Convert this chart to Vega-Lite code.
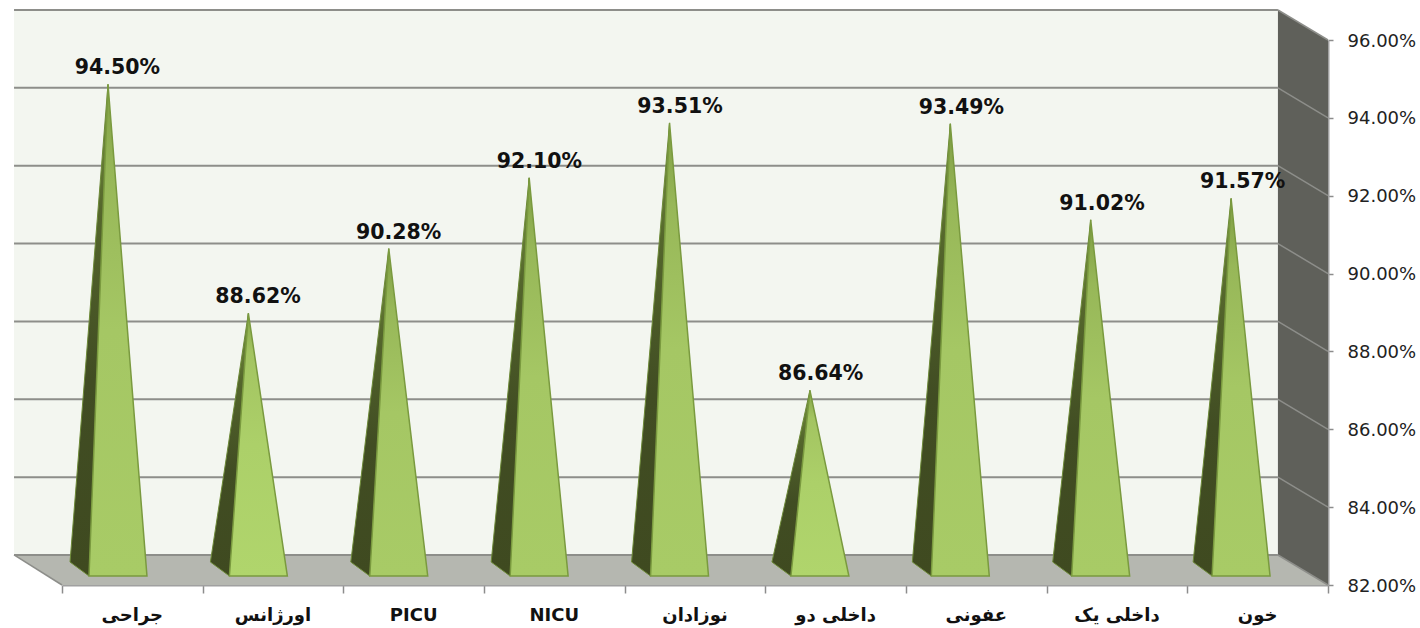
{
"$schema":"https://vega.github.io/schema/vega-lite/v6.json",
"autosize":"none",
"padding":{"left":62,"top":40,"right":92,"bottom":43},
"width":1266,"height":545,
"background":"white",
"config":{"view":{"stroke":null},"font":"DejaVu Sans"},
"datasets":{
 "dept":[
  {"dept":"جراحی","value":0.945},
  {"dept":"اورژانس","value":0.8862},
  {"dept":"PICU","value":0.9028},
  {"dept":"NICU","value":0.921},
  {"dept":"نوزادان","value":0.9351},
  {"dept":"داخلی دو","value":0.8664},
  {"dept":"عفونی","value":0.9349},
  {"dept":"داخلی یک","value":0.9102},
  {"dept":"خون","value":0.9157}
 ],
 "grid":[
  {"tick":0.82,"back":0.82771},{"tick":0.84,"back":0.84771},{"tick":0.86,"back":0.86771},{"tick":0.88,"back":0.88771},
  {"tick":0.9,"back":0.90771},{"tick":0.92,"back":0.92771},{"tick":0.94,"back":0.94771},{"tick":0.96,"back":0.96771}
 ],
 "floor":[{"y":0.82771,"x":-0.341,"x2":8.644},{"y":0.82,"x":0,"x2":9}],
 "side":[{"x":8.644,"y":0.96771,"y2":0.82771},{"x":9,"y":0.96,"y2":0.82}]
},
"layer":[
 {"layer":[
  {"data":{"values":[{"a":1}]},
   "mark":{"type":"rect","fill":"#f3f6f0"},
   "encoding":{
    "x":{"datum":-0.341,"type":"quantitative","scale":{"domain":[0,9]},"axis":{"values":[0,1,2,3,4,5,6,7,8,9],"labels":false,"grid":false,"title":null,"tickSize":8,"tickColor":"#8c8c8c","tickWidth":1.5,"domainColor":"#a0a0a0","domainWidth":2,"orient":"bottom"}},
    "x2":{"datum":8.644},
    "y":{"datum":0.96771,"type":"quantitative","scale":{"domain":[0.82,0.96]},"axis":{"values":[0.82,0.84,0.86,0.88,0.9,0.92,0.94,0.96],"format":".2%","orient":"right","grid":false,"title":null,"tickSize":5,"tickColor":"#8c8c8c","tickWidth":1.5,"domainColor":"#a0a0a0","domainWidth":2,"labelFontSize":18,"labelColor":"#222222","labelPadding":14,"labelOffset":1,"labelFont":"DejaVu Sans"}},
    "y2":{"datum":0.82771}
   }},
  {"data":{"name":"side"},
   "mark":{"type":"area","fill":"#5f605a","orient":"vertical"},
   "encoding":{
    "x":{"field":"x","type":"quantitative"},
    "y":{"field":"y","type":"quantitative","stack":null},
    "y2":{"field":"y2"}
   }},
  {"data":{"name":"floor"},
   "mark":{"type":"area","fill":"#b5b7b0","orient":"horizontal"},
   "encoding":{
    "y":{"field":"y","type":"quantitative"},
    "x":{"field":"x","type":"quantitative","stack":null},
    "x2":{"field":"x2"}
   }},
  {"data":{"name":"grid"},
   "mark":{"type":"rule","stroke":"#8d8e8a","strokeWidth":2},
   "encoding":{
    "x":{"datum":-0.341,"type":"quantitative"},
    "x2":{"datum":8.644},
    "y":{"field":"back","type":"quantitative"}
   }},
  {"data":{"name":"grid"},
   "mark":{"type":"rule","stroke":"#8d8e8a","strokeWidth":1.5},
   "encoding":{
    "x":{"datum":8.644,"type":"quantitative"},
    "x2":{"datum":9},
    "y":{"field":"back","type":"quantitative"},
    "y2":{"field":"tick"}
   }},
  {"data":{"name":"grid"},
   "transform":[{"filter":"datum.tick == 0.82"}],
   "mark":{"type":"rule","stroke":"#8d8e8a","strokeWidth":1.5},
   "encoding":{
    "x":{"datum":-0.341,"type":"quantitative"},
    "x2":{"datum":0},
    "y":{"field":"back","type":"quantitative"},
    "y2":{"field":"tick"}
   }},
  {"data":{"name":"dept"},
   "transform":[
    {"window":[{"op":"row_number","as":"n"}]},
    {"calculate":"0.327+0.998*(datum.n-1)","as":"a"},
    {"calculate":"[0,1,2]","as":"s"},{"flatten":["s"]},
    {"calculate":"datum.s==0?0.82231:(datum.s==1?0.8259:datum.value+0.0036)","as":"py"},
    {"calculate":"datum.s==0?datum.a-0.135:(datum.s==1?datum.a-0.27:datum.a)","as":"px"},
    {"calculate":"datum.s==0?datum.a-0.135:(datum.s==1?datum.a-0.1:datum.a)","as":"px2"}
   ],
   "mark":{"type":"area","orient":"horizontal","stroke":"#6d8a38","strokeWidth":1,"fill":{"x1":0,"y1":0,"x2":0,"y2":1,"gradient":"linear","stops":[{"offset":0,"color":"#7c9a42"},{"offset":0.25,"color":"#55672c"},{"offset":0.6,"color":"#414d23"},{"offset":1,"color":"#3f4a20"}]}},
   "encoding":{
    "y":{"field":"py","type":"quantitative"},
    "x":{"field":"px","type":"quantitative","stack":null},
    "x2":{"field":"px2"},
    "detail":{"field":"dept"}
   }},
  {"data":{"name":"dept"},
   "transform":[
    {"filter":"datum.value >= 0.89"},
    {"window":[{"op":"row_number","as":"n"}]},
    {"lookup":"dept","from":{"data":{"name":"dept"},"key":"dept","fields":["value"]},"as":["v2"]},
    {"calculate":"indexof(['جراحی','اورژانس','PICU','NICU','نوزادان','داخلی دو','عفونی','داخلی یک','خون'],datum.dept)","as":"i"},
    {"calculate":"0.327+0.998*datum.i","as":"a"},
    {"calculate":"[0,1]","as":"s"},{"flatten":["s"]},
    {"calculate":"datum.s==0?0.82231:datum.value+0.0036","as":"py"},
    {"calculate":"datum.s==0?datum.a-0.135:datum.a","as":"px"},
    {"calculate":"datum.s==0?datum.a+0.277:datum.a","as":"px2"}
   ],
   "mark":{"type":"area","orient":"horizontal","stroke":"#7a9a3f","strokeWidth":1.5,"fill":{"x1":0,"y1":0,"x2":0,"y2":1,"gradient":"linear","stops":[{"offset":0,"color":"#7f9e44"},{"offset":0.18,"color":"#97b758"},{"offset":0.5,"color":"#a5c764"},{"offset":1,"color":"#a8cb66"}]}},
   "encoding":{
    "y":{"field":"py","type":"quantitative"},
    "x":{"field":"px","type":"quantitative","stack":null},
    "x2":{"field":"px2"},
    "detail":{"field":"dept"}
   }},
  {"data":{"name":"dept"},
   "transform":[
    {"filter":"datum.value < 0.89"},
    {"calculate":"indexof(['جراحی','اورژانس','PICU','NICU','نوزادان','داخلی دو','عفونی','داخلی یک','خون'],datum.dept)","as":"i"},
    {"calculate":"0.327+0.998*datum.i","as":"a"},
    {"calculate":"[0,1]","as":"s"},{"flatten":["s"]},
    {"calculate":"datum.s==0?0.82231:datum.value+0.0036","as":"py"},
    {"calculate":"datum.s==0?datum.a-0.135:datum.a","as":"px"},
    {"calculate":"datum.s==0?datum.a+0.277:datum.a","as":"px2"}
   ],
   "mark":{"type":"area","orient":"horizontal","stroke":"#7a9a3f","strokeWidth":1.5,"fill":{"x1":0,"y1":0,"x2":0,"y2":1,"gradient":"linear","stops":[{"offset":0,"color":"#86a648"},{"offset":0.15,"color":"#a3c461"},{"offset":0.5,"color":"#acd069"},{"offset":1,"color":"#b0d56c"}]}},
   "encoding":{
    "y":{"field":"py","type":"quantitative"},
    "x":{"field":"px","type":"quantitative","stack":null},
    "x2":{"field":"px2"},
    "detail":{"field":"dept"}
   }}
 ]},
 {"data":{"name":"dept"},
  "mark":{"type":"text","font":"DejaVu Sans","fontWeight":"bold","fontSize":20.5,"color":"#111111","dx":-15,"dy":-30},
  "encoding":{
   "x":{"field":"dept","type":"nominal","sort":null,"scale":{"type":"band","paddingInner":0,"paddingOuter":0},"axis":{"orient":"bottom","title":null,"labelAngle":0,"ticks":false,"domain":false,"labelPadding":21,"labelFontSize":18,"labelFontWeight":"bold","labelColor":"#111111","labelFont":"DejaVu Sans","grid":false}},
   "y":{"field":"value","type":"quantitative"},
   "text":{"field":"value","type":"quantitative","format":".2%"}
  }}
],
"resolve":{"scale":{"x":"independent"},"axis":{"x":"independent"}}
}
